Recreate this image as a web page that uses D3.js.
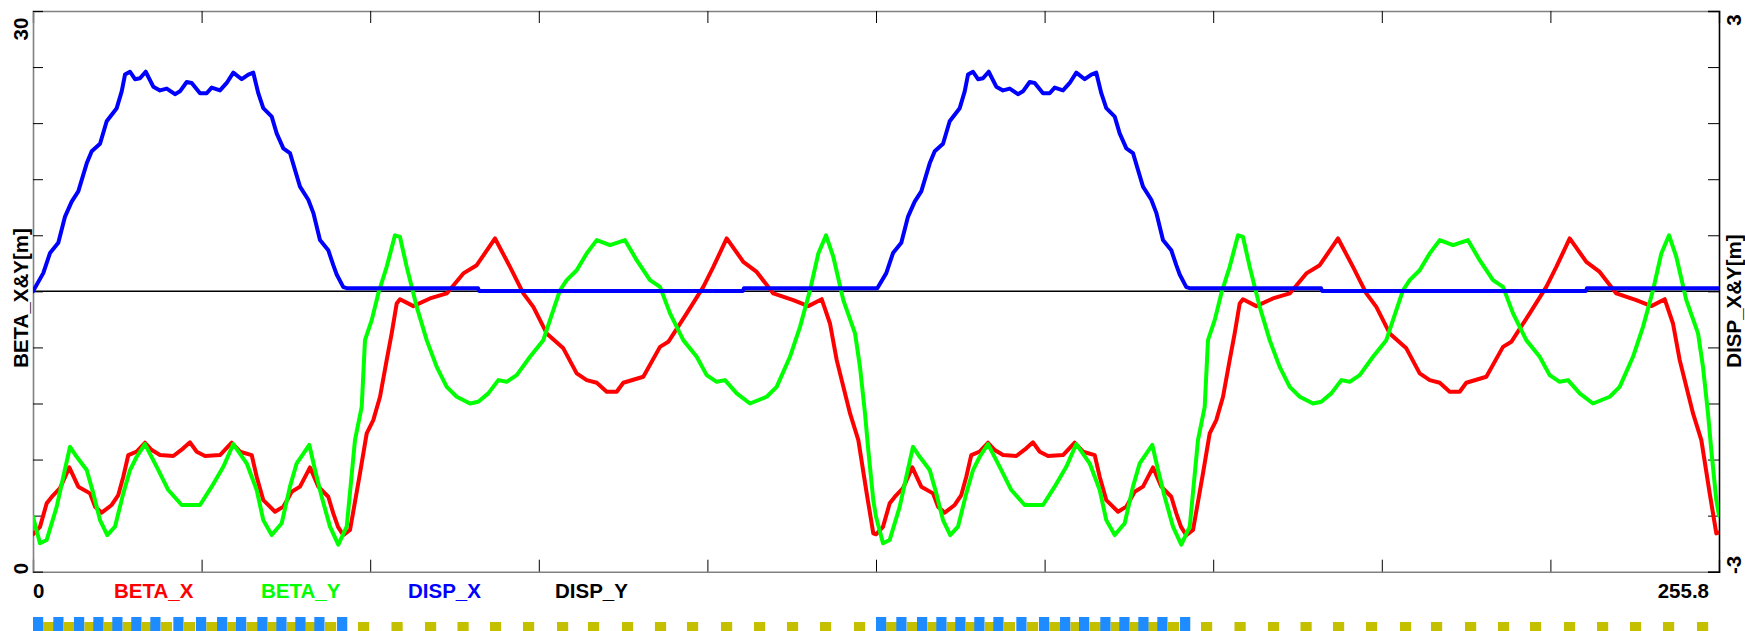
<!DOCTYPE html>
<html>
<head>
<meta charset="utf-8">
<script src="https://cdn.jsdelivr.net/npm/d3@7"></script>
<style>
  html, body { margin: 0; padding: 0; background: #fff; }
  svg { display: block; }
  text { font-family: "Liberation Sans", Arial, sans-serif; font-weight: bold; }
</style>
</head>
<body>
<svg id="chart" width="1745" height="631"></svg>
<script>
// ---------------- data ----------------
const sMax = 255.8;
const xTickLabels = ["0", "255.8"];
const yLeftLabels = ["0", "30"];
const yRightLabels = ["-3", "3"];
const legendNames = ["BETA_X", "BETA_Y", "DISP_X", "DISP_Y"];
const legendColors = ["#ff0000", "#00ff00", "#0000ff", "#000000"];
const leftTitle = "BETA_X&Y[m]";
const rightTitle = "DISP_X&Y[m]";

const sBetaX = [0,1.06,2.08,2.84,4.1,5.51,6.87,8.65,9.41,10.42,11.94,12.94,13.7,14.46,15.73,16.99,18.01,19.27,21.29,22.8,23.82,24.84,26.1,28.37,30.15,31.41,33.18,33.94,34.94,36.72,37.98,39.25,40.51,42.03,43.29,44.8,45.56,46.28,47.08,48.1,49.61,50.63,51.63,52.65,53.66,54.42,55.18,55.68,57.7,60.23,62.77,65.29,67.32,70.1,72.37,74.39,75.91,77.94,80.46,82.49,84.01,85.53,87.04,88.56,89.56,92.6,95.13,96.39,99.18,101.7,103.22,105.25,107.77,109.8,112.32,115.35,117.63,119.66,120.92,121.94,123.96,125.22,126.49,127.49,
  127.9,128.96,129.98,130.74,132.0,133.41,134.77,136.55,137.31,138.32,139.84,140.84,141.6,142.36,143.63,144.89,145.91,147.17,149.19,150.7,151.72,152.74,154.0,156.27,158.05,159.31,161.08,161.84,162.84,164.62,165.88,167.15,168.41,169.93,171.19,172.7,173.46,174.18,174.98,176.0,177.51,178.53,179.53,180.55,181.56,182.32,183.08,183.58,185.6,188.13,190.67,193.19,195.22,198.0,200.27,202.29,203.81,205.84,208.36,210.39,211.91,213.43,214.94,216.46,217.46,220.5,223.03,224.29,227.08,229.6,231.12,233.15,235.67,237.7,240.22,243.25,245.53,247.56,248.82,249.84,251.86,253.12,254.39,255.39,255.8];
const betaX = [2.0,2.4,3.66,4.0,4.47,5.58,4.55,4.19,3.48,3.16,3.57,4.1,5.08,6.24,6.42,6.9,6.51,6.24,6.19,6.6,6.92,6.42,6.19,6.24,6.9,6.42,6.24,5.08,3.83,3.21,3.48,4.28,4.55,5.58,4.55,4.01,3.12,2.4,1.96,2.23,5.26,7.4,8.11,9.36,11.32,12.75,14.35,14.58,14.21,14.62,14.89,15.96,16.4,17.83,16.31,14.89,14.17,12.75,11.95,10.61,10.25,10.11,9.63,9.63,10.11,10.43,12.03,12.3,13.82,15.24,16.31,17.83,16.58,16.04,14.89,14.53,14.21,14.58,13.28,11.32,8.47,7.04,4.19,2.05,
  2.0,2.4,3.66,4.0,4.47,5.58,4.55,4.19,3.48,3.16,3.57,4.1,5.08,6.24,6.42,6.9,6.51,6.24,6.19,6.6,6.92,6.42,6.19,6.24,6.9,6.42,6.24,5.08,3.83,3.21,3.48,4.28,4.55,5.58,4.55,4.01,3.12,2.4,1.96,2.23,5.26,7.4,8.11,9.36,11.32,12.75,14.35,14.58,14.21,14.62,14.89,15.96,16.4,17.83,16.31,14.89,14.17,12.75,11.95,10.61,10.25,10.11,9.63,9.63,10.11,10.43,12.03,12.3,13.82,15.24,16.31,17.83,16.58,16.04,14.89,14.53,14.21,14.58,13.28,11.32,8.47,7.04,4.19,2.05,2.1];

const sBetaY = [0,1.06,2.08,3.6,4.6,5.61,6.63,8.15,9.15,10.17,11.27,12.44,13.7,14.72,15.73,16.99,18.77,20.53,22.56,25.34,27.11,28.87,30.39,32.42,33.94,34.94,36.22,37.73,38.99,40.01,41.92,42.79,43.8,45.06,46.32,47.6,48.85,49.87,50.37,51.39,52.39,53.66,54.92,55.68,56.7,58.22,59.73,61.25,62.77,64.29,66.3,67.56,69.08,70.6,71.87,73.39,75.41,77.42,79.96,80.97,82.49,84.01,85.53,87.54,89.82,91.59,93.61,95.13,96.65,98.66,100.7,102.21,103.73,104.99,106.77,108.78,111.32,112.83,114.85,116.37,117.89,119.15,120.32,121.42,122.94,124.72,125.47,126.23,126.73,127.49,
  127.9,128.96,129.98,131.5,132.5,133.51,134.53,136.05,137.05,138.07,139.17,140.34,141.6,142.62,143.63,144.89,146.67,148.43,150.46,153.24,155.01,156.77,158.29,160.32,161.84,162.84,164.12,165.63,166.89,167.91,169.82,170.69,171.7,172.96,174.22,175.5,176.75,177.77,178.27,179.29,180.29,181.56,182.82,183.58,184.6,186.12,187.63,189.15,190.67,192.19,194.2,195.46,196.98,198.5,199.77,201.29,203.31,205.32,207.86,208.87,210.39,211.91,213.43,215.44,217.72,219.49,221.51,223.03,224.55,226.56,228.6,230.11,231.63,232.89,234.67,236.68,239.22,240.73,242.75,244.27,245.79,247.05,248.22,249.32,250.84,252.62,253.37,254.13,254.63,255.39,255.8];
const betaY = [2.94,1.52,1.7,3.48,5.08,6.68,6.15,5.44,4.19,2.76,1.96,2.41,4.19,5.44,6.15,6.83,5.61,4.37,3.57,3.57,4.55,5.61,6.83,5.8,4.37,2.76,1.96,2.59,4.55,5.8,6.78,5.44,4.01,2.41,1.45,2.41,7.04,8.82,12.39,13.46,14.89,16.31,18.0,17.91,16.31,14.17,12.39,10.96,9.89,9.36,9.0,9.09,9.54,10.25,10.16,10.52,11.5,12.39,15.06,15.6,16.13,17.03,17.74,17.47,17.74,16.67,15.6,15.24,13.82,12.39,11.5,10.52,10.16,10.25,9.54,9.0,9.36,9.89,11.5,13.1,15.06,17.03,18.0,16.85,14.53,12.75,10.96,8.47,6.51,3.83,
  2.94,1.52,1.7,3.48,5.08,6.68,6.15,5.44,4.19,2.76,1.96,2.41,4.19,5.44,6.15,6.83,5.61,4.37,3.57,3.57,4.55,5.61,6.83,5.8,4.37,2.76,1.96,2.59,4.55,5.8,6.78,5.44,4.01,2.41,1.45,2.41,7.04,8.82,12.39,13.46,14.89,16.31,18.0,17.91,16.31,14.17,12.39,10.96,9.89,9.36,9.0,9.09,9.54,10.25,10.16,10.52,11.5,12.39,15.06,15.6,16.13,17.03,17.74,17.47,17.74,16.67,15.6,15.24,13.82,12.39,11.5,10.52,10.16,10.25,9.54,9.0,9.36,9.89,11.5,13.1,15.06,17.03,18.0,16.85,14.53,12.75,10.96,8.47,6.51,3.83,3.0];

const sDispX = [0,1.56,2.58,3.84,4.86,5.87,6.87,8.15,8.91,10.17,11.18,12.7,13.46,13.96,14.72,15.48,16.23,17.1,18.25,19.27,20.29,21.54,22.3,23.32,24.08,25.34,26.35,27.11,28.37,29.39,30.39,31.67,32.67,33.42,34.18,34.94,36.22,36.97,37.98,38.99,39.75,40.51,41.77,42.53,43.54,44.8,45.56,46.08,47.08,47.6,67.52,67.67,107.72,107.87,
  128.1,129.46,130.48,131.74,132.76,133.77,134.77,136.05,136.81,138.07,139.08,140.6,141.36,141.86,142.62,143.38,144.13,145.0,146.15,147.17,148.19,149.44,150.2,151.22,151.98,153.24,154.25,155.01,156.27,157.29,158.29,159.57,160.57,161.32,162.08,162.84,164.12,164.87,165.88,166.89,167.65,168.41,169.67,170.43,171.44,172.7,173.46,173.98,174.98,175.5,195.42,195.57,235.62,235.77,255.8];
const dispX = [0,0.195,0.41,0.52,0.8,0.96,1.07,1.37,1.5,1.58,1.82,1.96,2.14,2.32,2.35,2.27,2.28,2.35,2.19,2.15,2.17,2.11,2.14,2.24,2.23,2.12,2.12,2.18,2.15,2.23,2.34,2.27,2.32,2.34,2.12,1.96,1.87,1.69,1.53,1.48,1.3,1.12,0.98,0.84,0.55,0.44,0.28,0.18,0.045,0.034,0.034,0.005,0.005,0.034,
  0.034,0.195,0.41,0.52,0.8,0.96,1.07,1.37,1.5,1.58,1.82,1.96,2.14,2.32,2.35,2.27,2.28,2.35,2.19,2.15,2.17,2.11,2.14,2.24,2.23,2.12,2.12,2.18,2.15,2.23,2.34,2.27,2.32,2.34,2.12,1.96,1.87,1.69,1.53,1.48,1.3,1.12,0.98,0.84,0.55,0.44,0.28,0.18,0.045,0.034,0.034,0.005,0.005,0.034,0.034];

const sDispY = [0, 255.8];
const dispY = [0, 0];

// lattice: dipole (blue) and quadrupole (olive) start positions [m]
const dipoleS = [0,3.08,6.22,9.15,12.03,14.91,17.8,21.29,24.73,27.92,30.8,34.03,36.92,39.8,42.68,46.13,
  127.9,130.98,134.12,137.05,139.93,142.81,145.7,149.19,152.63,155.82,158.7,161.93,164.82,167.7,170.58,174.03];
const quadS = [1.55,4.68,7.8,10.72,13.6,16.5,19.4,22.9,26.3,29.5,32.4,35.6,38.5,41.3,44.3,
  49.31,54.39,59.47,64.4,69.33,74.34,79.5,84.2,89.36,94.36,99.22,104.38,109.39,114.39,119.4,124.56,
  129.45,132.58,135.7,138.62,141.5,144.4,147.3,150.8,154.2,157.4,160.3,163.5,166.4,169.2,172.2,
  177.21,182.29,187.37,192.3,197.23,202.24,207.4,212.1,217.26,222.26,227.12,232.28,237.29,242.29,247.3,252.46];

// ---------------- layout ----------------
const L = 33, R = 1719, T = 11, B = 571.7;
const svg = d3.select("#chart");
const x = d3.scaleLinear().domain([0, sMax]).range([L, R]);
const yL = d3.scaleLinear().domain([0, 30]).range([B, T]);
const yR = d3.scaleLinear().domain([-3, 3]).range([B, T]);

const xTicks = d3.range(0, 11).map(i => i * sMax / 10);
const yLTicks = d3.range(0, 11).map(i => i * 3);
const yRTicks = d3.range(0, 11).map(i => -3 + i * 0.6);

// axes with inward ticks, no labels
const gx = svg.append("g").attr("transform", `translate(0,${B})`)
  .call(d3.axisBottom(x).tickValues(xTicks).tickSize(-12).tickFormat(""));
const gxt = svg.append("g").attr("transform", `translate(0,${T})`)
  .call(d3.axisTop(x).tickValues(xTicks).tickSize(-12).tickFormat(""));
const gyl = svg.append("g").attr("transform", `translate(${L},0)`)
  .call(d3.axisLeft(yL).tickValues(yLTicks).tickSize(-10).tickFormat(""));
const gyr = svg.append("g").attr("transform", `translate(${R},0)`)
  .call(d3.axisRight(yR).tickValues(yRTicks).tickSize(-11).tickFormat(""));
[gx, gxt, gyl].forEach(g => {
  g.select(".domain").attr("stroke", "#808080").attr("stroke-width", 1.6);
  g.selectAll(".tick line").attr("stroke", "#000").attr("stroke-width", 1);
});
gyr.select(".domain").attr("stroke", "#000").attr("stroke-width", 1.6);
gyr.selectAll(".tick line").attr("stroke", "#000").attr("stroke-width", 1);

// clip
svg.append("clipPath").attr("id", "clip").append("rect")
  .attr("x", L).attr("y", T).attr("width", R - L).attr("height", B - T);
const plot = svg.append("g").attr("clip-path", "url(#clip)");

function drawLine(sArr, vArr, yScale, color, width) {
  const pts = sArr.map((s, i) => [s, vArr[i]]);
  plot.append("path").datum(pts)
    .attr("fill", "none").attr("stroke", color).attr("stroke-width", width)
    .attr("stroke-linejoin", "round").attr("stroke-linecap", "round")
    .attr("d", d3.line().x(d => x(d[0])).y(d => yScale(d[1])));
}
drawLine(sDispY, dispY, yR, legendColors[3], 1.5);
drawLine(sBetaX, betaX, yL, legendColors[0], 4);
drawLine(sBetaY, betaY, yL, legendColors[1], 4);
drawLine(sDispX, dispX, yR, legendColors[2], 4);

// ---------------- texts ----------------
const fs = 20.5;
svg.append("text").attr("x", L).attr("y", 598).attr("font-size", fs).text(xTickLabels[0]);
svg.append("text").attr("x", 1709).attr("y", 598).attr("font-size", fs)
  .attr("text-anchor", "end").text(xTickLabels[1]);
const legendX = [114, 261, 408, 555];
legendNames.forEach((n, i) => {
  svg.append("text").attr("x", legendX[i]).attr("y", 598).attr("font-size", fs)
    .attr("fill", legendColors[i]).text(n);
});
function vtext(tx, ty, str) {
  svg.append("text").attr("transform", `translate(${tx},${ty}) rotate(-90)`)
    .attr("font-size", fs).attr("text-anchor", "middle").text(str);
}
vtext(28.3, 29, yLeftLabels[1]);
vtext(28.3, 568.5, yLeftLabels[0]);
vtext(28.3, 298, leftTitle);
vtext(1741, 301, rightTitle);
vtext(1741, 20, yRightLabels[1]);
vtext(1741, 565, yRightLabels[0]);

// ---------------- lattice strip ----------------
const lat = svg.append("g");
lat.selectAll("rect.q").data(quadS).enter().append("rect")
  .attr("x", d => x(d)).attr("y", 622)
  .attr("width", x(1.7) - x(0)).attr("height", 12).attr("fill", "#c4c000");
lat.selectAll("rect.d").data(dipoleS).enter().append("rect")
  .attr("x", d => x(d)).attr("y", 617)
  .attr("width", x(1.55) - x(0)).attr("height", 16).attr("fill", "#1e8cff");
</script>
</body>
</html>
